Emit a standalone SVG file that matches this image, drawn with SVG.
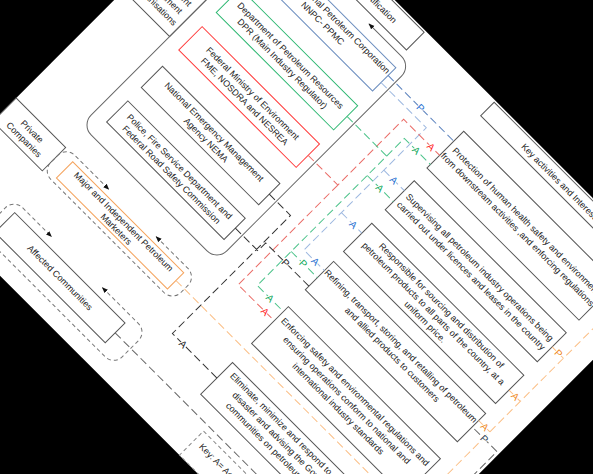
<svg xmlns="http://www.w3.org/2000/svg" width="593" height="474" viewBox="0 0 593 474">
<defs>
<style>
.box{fill:#fff;stroke:#555;stroke-width:1}
.t{font-family:"Liberation Sans",Arial,sans-serif;font-size:9px;fill:#222;text-anchor:middle}
.lbl{font-family:"Liberation Sans",Arial,sans-serif;font-size:10px;text-anchor:middle;stroke:#fff;stroke-width:2;paint-order:stroke}
.c{fill:none;stroke-width:1;stroke-dasharray:8 4}
.loop{fill:none;stroke:#777;stroke-width:1;stroke-dasharray:4 3}
</style>
<marker id="arr" viewBox="0 0 10 10" refX="9" refY="5" markerWidth="6" markerHeight="6" orient="auto-start-reverse"><path d="M0,1 L10,5 L0,9 z" fill="#111"/></marker>
</defs>
<rect width="593" height="474" fill="#000"/>
<g transform="rotate(45 296.5 237)">
<rect width="593" height="474" fill="#fff"/>

<g id="header-stakeholders"><rect class="box" x="0" y="2" width="242" height="25"/><text class="t" x="214" y="18" style="text-anchor:end">Stakeholder Identification</text></g>
<g id="header-activities"><rect class="box" x="341" y="2" width="214" height="19"/><text class="t" x="445" y="15">Key activities and Interests</text></g>

<g id="government"><rect class="box" x="0" y="120" width="65" height="65"/><text class="t" x="32.5" y="151">Government</text><text class="t" x="32.5" y="163">Department</text><text class="t" x="32.5" y="175">Organisations</text></g>
<g id="private"><rect class="box" x="0" y="337" width="70" height="33"/><text class="t" x="35" y="352.5">Private</text><text class="t" x="35" y="364">Companies</text></g>

<g id="gov-group"><path d="M197,35 H243 A14,14 0 0 1 257,49 V296 A14,14 0 0 1 243,310 H79 A14,14 0 0 1 65,296 V49 A14,14 0 0 1 79,35 H130" fill="none" stroke="#666" stroke-width="1" marker-start="url(#arr)" marker-end="url(#arr)"/></g>

<g id="nnpc"><rect class="box" x="81" y="47" width="166" height="33" style="stroke:#6c8ebf"/><text class="t" x="164" y="58.5">Nigerian National Petroleum Corporation</text><text class="t" x="164" y="70.5">NNPC- PPMC</text></g>
<g id="dpr"><rect class="box" x="81" y="101" width="166" height="34" style="stroke:#2eb872"/><text class="t" x="164" y="116">Department of Petroleum Resources</text><text class="t" x="164" y="127.5">DPR (Main Industry Regulator)</text></g>
<g id="fme"><rect class="box" x="81" y="155" width="166" height="33" style="stroke:#ff3b3b"/><text class="t" x="164" y="169.5">Federal Ministry of Environment</text><text class="t" x="164" y="181">FME, NOSDRA and NESREA</text></g>
<g id="nema"><rect class="box" x="81" y="211" width="166" height="30"/><text class="t" x="164" y="224">National Emergency Management</text><text class="t" x="164" y="235.5">Agency NEMA</text></g>
<g id="police"><rect class="box" x="81" y="260" width="166" height="30"/><text class="t" x="164" y="273">Police, Fire Service Department and</text><text class="t" x="164" y="284.5">Federal Road Safety Commission</text></g>

<g id="marketers-group"><path class="loop" d="M197,336 H242 A12,12 0 0 1 254,348 V358 A12,12 0 0 1 242,370 H82 A12,12 0 0 1 70,358 V348 A12,12 0 0 1 82,336 H130" marker-start="url(#arr)" marker-end="url(#arr)"/></g>
<g id="marketers"><rect class="box" x="85" y="342" width="157" height="23" style="stroke:#f5a35c"/><text class="t" x="163.5" y="351.5">Major and Independent Petroleum</text><text class="t" x="163.5" y="362">Marketers</text></g>

<g id="communities-group"><path class="loop" d="M195,410 H246 A12,12 0 0 1 258,422 V445 A12,12 0 0 1 246,457 H82 A12,12 0 0 1 70,445 V422 A12,12 0 0 1 82,410 H123" marker-start="url(#arr)" marker-end="url(#arr)"/></g>
<g id="communities"><rect class="box" x="80" y="419" width="156" height="28"/><text class="t" x="158" y="436">Affected Communities</text></g>

<g id="protection"><rect class="box" x="340" y="44" width="215" height="52"/><text class="t" x="447.5" y="66.5">Protection of human health safety and environment</text><text class="t" x="447.5" y="78.5">from downstream activities ,and enforcing regulations</text></g>
<g id="supervising"><rect class="box" x="340" y="114" width="215" height="41"/><text class="t" x="447.5" y="132">Supervising all petroleum industry operations being</text><text class="t" x="447.5" y="144">carried out under licences and leases in the country</text></g>
<g id="sourcing"><rect class="box" x="340" y="174" width="215" height="40"/><text class="t" x="447.5" y="186">Responsible for sourcing and distribution of</text><text class="t" x="447.5" y="197.5">petroleum products to all parts of the country, at a</text><text class="t" x="447.5" y="209">uniform price.</text></g>
<g id="refining"><rect class="box" x="340" y="228" width="215" height="40"/><text class="t" x="447.5" y="243.5">Refining, transport, storing, and retailing of petroleum</text><text class="t" x="447.5" y="255.5">and allied products to customers</text></g>
<g id="enforcing"><rect class="box" x="340" y="292" width="215" height="52"/><text class="t" x="447.5" y="308">Enforcing safety and environmental regulations and</text><text class="t" x="447.5" y="320">ensuring operations conform to national and</text><text class="t" x="447.5" y="332">international industry standards</text></g>
<g id="eliminate"><rect class="box" x="340" y="371" width="215" height="45"/><text class="t" x="447.5" y="383">Eliminate, minimize and respond to any petroleum</text><text class="t" x="447.5" y="395">disaster and advising the Government and</text><text class="t" x="447.5" y="407">communities on petroleum related issues</text></g>
<g id="key"><rect x="368" y="440" width="190" height="34" fill="#fff" stroke="#888" stroke-dasharray="4 3"/><text class="t" x="376" y="455" style="text-anchor:start">Key: A= Accountable, P= Participant</text></g>

<g id="connectors">
<path class="c" stroke="#5b82be" d="M247,58 H340"/>
<path class="c" stroke="#9db8e0" d="M247,68 H311 V241 H340 M311,128 H340 M311,188 H340"/>
<path class="c" stroke="#ea6b66" d="M247,171 H289 V78 H340 M289,171 V312 H340"/>
<path class="c" stroke="#4cc38a" d="M247,116 H303 V299 H340 M303,116 V91 H340 M303,143.5 H340 M303,251 H340"/>
<path class="c" stroke="#333" d="M247,226 H277 V393 H340 M247,274 H279 V263 H340"/>
<path class="c" stroke="#fbbf86" d="M242,353 H571 V70 M555,134 H571 M555,195 H571 M555,238 H571 M555,70 H571"/>
<path class="c" stroke="#666" d="M236,433 H590 V247 H555"/>
<text class="lbl" fill="#1f6fd1" x="293" y="61.5">P</text>
<text class="lbl" fill="#1f6fd1" x="325" y="131.5">A</text>
<text class="lbl" fill="#1f6fd1" x="328" y="191.5">A</text>
<text class="lbl" fill="#1f6fd1" x="327" y="244.5">A</text>
<text class="lbl" fill="#ff1a1a" x="328" y="81.5">A</text>
<text class="lbl" fill="#ff1a1a" x="327" y="315.5">A</text>
<text class="lbl" fill="#11a85a" x="320" y="94.5">A</text>
<text class="lbl" fill="#11a85a" x="321" y="147">A</text>
<text class="lbl" fill="#11a85a" x="320" y="254.5">P</text>
<text class="lbl" fill="#11a85a" x="321" y="302.5">A</text>
<text class="lbl" fill="#222" x="292" y="396.5">A</text>
<text class="lbl" fill="#222" x="307" y="266.5">P</text>
<text class="lbl" fill="#f08a24" x="564" y="137.5">P</text>
<text class="lbl" fill="#f08a24" x="564" y="198.5">A</text>
<text class="lbl" fill="#f08a24" x="564" y="241.5">A</text>
<text class="lbl" fill="#2d3e55" x="572" y="250.5">P</text>
</g>
</g>
</svg>
